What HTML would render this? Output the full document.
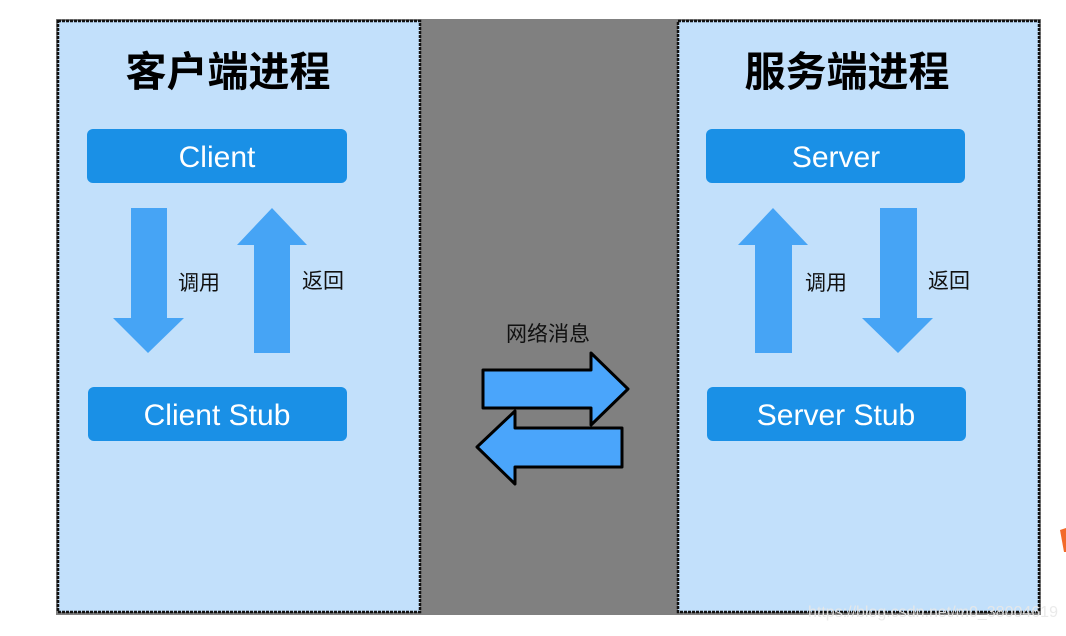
<!DOCTYPE html>
<html><head><meta charset="utf-8"><style>
body{margin:0;background:#fff;width:1066px;height:631px;overflow:hidden}
</style></head><body>
<svg width="1066" height="631" xmlns="http://www.w3.org/2000/svg" font-family="Liberation Sans, Noto Sans CJK SC, sans-serif">
<rect x="56" y="19" width="985" height="596" fill="#808080"/>
<rect x="58" y="21" width="362" height="591" fill="#c2e0fb" stroke="#111" stroke-width="2.5" stroke-dasharray="3 1"/>
<rect x="678" y="21" width="361" height="591" fill="#c2e0fb" stroke="#111" stroke-width="2.5" stroke-dasharray="3 1"/>
<text x="228" y="86" font-size="41" font-weight="bold" text-anchor="middle" fill="#000">客户端进程</text>
<text x="847" y="86" font-size="41" font-weight="bold" text-anchor="middle" fill="#000">服务端进程</text>
<g fill="#1a90e6">
<rect x="87" y="129" width="260" height="54" rx="6"/>
<rect x="88" y="387" width="259" height="54" rx="6"/>
<rect x="706" y="129" width="259" height="54" rx="6"/>
<rect x="707" y="387" width="259" height="54" rx="6"/>
</g>
<g fill="#fff" font-size="30" text-anchor="middle">
<text x="217" y="167">Client</text>
<text x="217" y="425">Client Stub</text>
<text x="836" y="167">Server</text>
<text x="836" y="425">Server Stub</text>
</g>
<g fill="#46a4f5">
<polygon points="131,208 167,208 167,318 184,318 148,353 113,318 131,318"/>
<polygon points="272,208 307,245 290,245 290,353 254,353 254,245 237,245"/>
<polygon points="773,208 808,245 792,245 792,353 755,353 755,245 738,245"/>
<polygon points="880,208 917,208 917,318 933,318 898,353 862,318 880,318"/>
</g>
<g font-size="21" fill="#111">
<text x="178" y="290">调用</text>
<text x="302" y="288">返回</text>
<text x="805" y="290">调用</text>
<text x="928" y="288">返回</text>
</g>
<text x="548" y="341" font-size="21" text-anchor="middle" fill="#111">网络消息</text>
<g fill="#4aa5fb" stroke="#000" stroke-width="3" stroke-linejoin="round">
<polygon points="483,370 591,370 591,353 628,389 591,425 591,408 483,408"/>
<polygon points="622,428 515,428 515,411 477,447 515,484 515,467 622,467"/>
</g>
<text x="808" y="617" font-size="16" fill="#e8e8e8" opacity="0.9">https://blog.csdn.net/m0_38004619</text>
<polygon points="1060,530 1066,528 1066,552 1064,552" fill="#f26a2a"/>
</svg>
</body></html>
